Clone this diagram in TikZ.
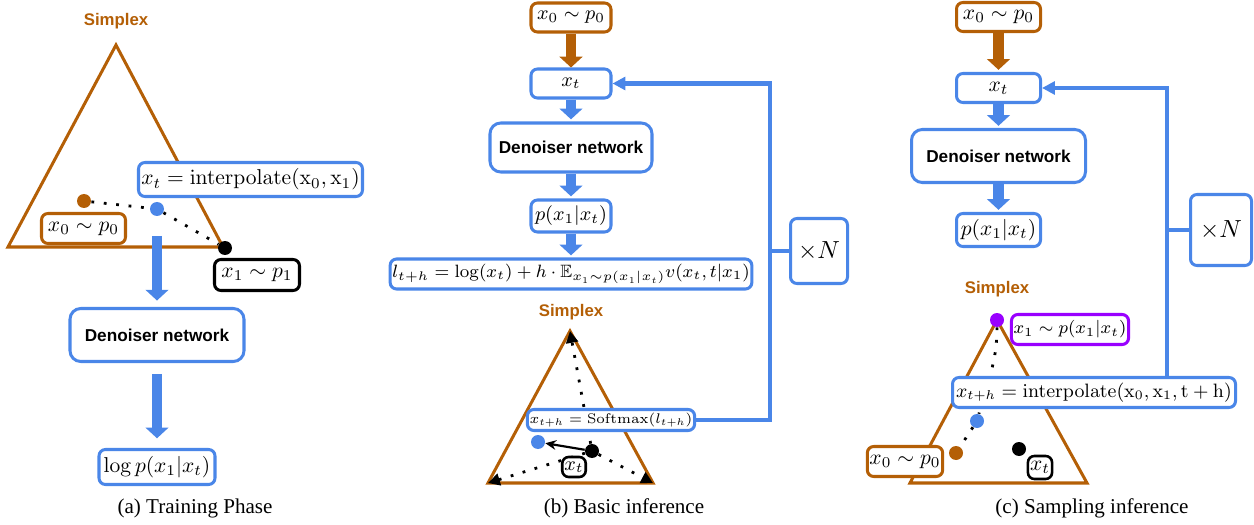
\RequirePackage{fix-cm}
\documentclass[tikz,border=0pt]{standalone}
\usepackage{amsmath,amssymb}
\usepackage[no-math]{fontspec}
\setmainfont{Liberation Serif}
\setsansfont{Liberation Sans}
\usepackage{tikz}
\usetikzlibrary{arrows.meta}
\definecolor{gblue}{RGB}{74,134,232}
\definecolor{gbrown}{RGB}{180,95,6}
\definecolor{gpurple}{RGB}{153,0,255}
\newcommand{\pxl}{0.465pt}
\tikzset{
  bluebox/.style={draw=gblue, line width=1.4pt, rounded corners=3pt, fill=white, inner sep=1pt},
  brownbox/.style={bluebox, draw=gbrown},
  blackbox/.style={bluebox, draw=black},
  purplebox/.style={bluebox, draw=gpurple},
  denbox/.style={bluebox, rounded corners=5pt, font=\sffamily\bfseries\fontsize{8}{10}\selectfont},
  smallmath/.style={font=\fontsize{9.2}{11}\selectfont},
  simdot/.style={circle, inner sep=0pt, minimum size=14*\pxl},
  simlabel/.style={text=gbrown, font=\sffamily\bfseries\fontsize{7.8}{9}\selectfont},
  simplex/.style={draw=gbrown, line width=1.4pt, line join=miter},
  bigarrow/.style={line width=5pt, -{Triangle[width=10.5pt,length=5pt]}},
  loopline/.style={draw=gblue, line width=1.9pt},
  dotline/.style={line width=1.3pt, dash pattern=on 1.3pt off 4.5pt},
  caption/.style={font=\fontsize{9.8}{12}\selectfont},
}
\begin{document}
\begin{tikzpicture}[x=0.465pt, y=-0.465pt]
  \useasboundingbox (0, 0) rectangle (1254, 525);
  \node[simlabel] (simA) at (116, 21) {Simplex};
  \draw[simplex] (116, 45) -- (223, 247) -- (8, 247) -- cycle;
  \node[simdot, fill=gbrown] (brdotA) at (84, 201) {};
  \node[simdot, fill=gblue] (bldotA) at (157, 209) {};
  \node[simdot, fill=black] (bkdotA) at (225, 248) {};
  \draw[dotline] (brdotA) -- (bldotA) -- (bkdotA);
  \node[bluebox, minimum width=224*\pxl, minimum height=34*\pxl] (interpA) at (250.5, 179.5) {$x_t = \mathrm{interpolate(x_0, x_1)}$};
  \node[brownbox, minimum width=84*\pxl, minimum height=30*\pxl] (x0A) at (83.5, 228.5) {$x_0 \sim p_0$};
  \node[blackbox, minimum width=85*\pxl, minimum height=31*\pxl] (x1A) at (257, 275) {$x_1 \sim p_1$};
  \coordinate (arrA) at (157, 236);
  \node[denbox, minimum width=174*\pxl, minimum height=53*\pxl] (denA) at (157, 335) {Denoiser network};
  \node[bluebox, minimum width=116*\pxl, minimum height=35*\pxl] (logA) at (157, 467) {$\log p(x_1|x_t)$};
  \draw[bigarrow, gblue, shorten >=3pt] (arrA) -- (denA.north);
  \draw[bigarrow, gblue, shorten <=5pt, shorten >=4.5pt] (denA.south) -- (logA.north);
  \node[caption] (capA) at (195, 508) {(a) Training Phase};

  \node[brownbox, smallmath, minimum width=80*\pxl, minimum height=29*\pxl] (x0B) at (571, 17.5) {$x_0 \sim p_0$};
  \node[bluebox, smallmath, minimum width=80*\pxl, minimum height=29*\pxl] (xtB) at (571, 83.5) {$x_t$};
  \node[denbox, minimum width=162*\pxl, minimum height=49*\pxl] (denB) at (571, 147.5) {Denoiser network};
  \node[bluebox, smallmath, minimum width=80*\pxl, minimum height=32*\pxl] (pB) at (571, 216) {$p(x_1|x_t)$};
  \node[bluebox, font=\fontsize{8.3}{10}\selectfont, minimum width=346*\pxl, minimum height=30*\pxl] (lB) at (571, 274) {$l_{t+h} = \log(x_t) + h \cdot \mathbb{E}_{x_1 \sim p(x_1|x_t)} v(x_t, t|x_1)$};
  \draw[bigarrow, gbrown] (x0B) -- (xtB);
  \draw[bigarrow, gblue, shorten >=1pt] (xtB) -- (denB);
  \draw[bigarrow, gblue, shorten >=1pt] (denB) -- (pB);
  \draw[bigarrow, gblue, shorten >=1pt] (pB) -- (lB);
  \node[simlabel] (simB) at (571, 312) {Simplex};
  \coordinate (topB) at (570, 331);
  \coordinate (leftB) at (488, 483);
  \coordinate (rightB) at (653, 483);
  \draw[simplex] (topB) -- (rightB) -- (leftB) -- cycle;
  \node[simdot, fill=black] (bkB) at (592, 451) {};
  \node[simdot, fill=gblue] (blB) at (538, 442) {};
  \draw[dotline, -{Triangle[width=5.5pt, length=5.5pt]}] (bkB) -- (topB);
  \draw[dotline, -{Triangle[width=5.5pt, length=5.5pt]}] (bkB) -- (leftB);
  \draw[dotline, -{Triangle[width=5.5pt, length=5.5pt]}] (bkB) -- (rightB);
  \draw[line width=1pt, -{Stealth[length=5pt, width=4.5pt]}] (bkB) -- (blB);
  \node[bluebox, font=\fontsize{6.5}{8}\selectfont, minimum width=159*\pxl, minimum height=21*\pxl] (smB) at (611, 420) {$x_{t+h} = \mathrm{Softmax}(l_{t+h})$};
  \node[blackbox, smallmath, line width=1.2pt, minimum size=20*\pxl] (xtsB) at (574, 467) {$x_t$};
  \coordinate (cornerB) at (770, 420);
  \draw[loopline, -{Triangle[width=6pt, length=6pt]}] (smB.east) -- (cornerB) |- (xtB.east);
  \node[bluebox, font=\fontsize{11.5}{14}\selectfont, minimum width=57*\pxl, minimum height=65*\pxl] (nB) at (819, 251) {$\times N$};
  \draw[loopline] (nB.west) -- (nB.west -| cornerB);
  \node[caption] (capB) at (624, 508) {(b) Basic inference};

  \node[brownbox, minimum width=84*\pxl, minimum height=29*\pxl] (x0C) at (998.5, 17) {$x_0 \sim p_0$};
  \node[bluebox, minimum width=84*\pxl, minimum height=29*\pxl] (xtC) at (998.5, 88) {$x_t$};
  \node[denbox, minimum width=174*\pxl, minimum height=53*\pxl] (denC) at (998.5, 156) {Denoiser network};
  \node[bluebox, minimum width=84*\pxl, minimum height=33*\pxl] (pC) at (998.5, 230) {$p(x_1|x_t)$};
  \draw[bigarrow, gbrown, shorten >=1pt] (x0C) -- (xtC);
  \draw[bigarrow, gblue, shorten >=1pt] (xtC) -- (denC);
  \draw[bigarrow, gblue, shorten >=1pt] (denC) -- (pC);
  \node[simlabel] (simC) at (997, 289) {Simplex};
  \draw[simplex] (997, 320) -- (1087, 483) -- (910, 483) -- cycle;
  \node[simdot, fill=gpurple] (puC) at (997, 320) {};
  \node[simdot, fill=gblue] (blC) at (977, 421) {};
  \node[simdot, fill=gbrown] (brC) at (956, 453) {};
  \node[simdot, fill=black] (bkC) at (1019, 449) {};
  \draw[dotline] (puC) to[out=-90, in=75] (blC) -- (brC);
  \node[purplebox, font=\fontsize{8.2}{10}\selectfont, minimum width=113*\pxl, minimum height=30*\pxl] (puxC) at (1070, 329.5) {$x_1 \sim p(x_1|x_t)$};
  \node[bluebox, font=\fontsize{9}{11}\selectfont, minimum width=283*\pxl, minimum height=30*\pxl] (ipC) at (1094, 392.5) {$x_{t+h} = \mathrm{interpolate(x_0, x_1, t+h)}$};
  \node[blackbox, line width=1.2pt, minimum width=22*\pxl, minimum height=23*\pxl] (xtsC) at (1040, 467.5) {$x_t$};
  \node[brownbox, minimum width=73*\pxl, minimum height=30*\pxl] (x0sC) at (905, 461.5) {$x_0 \sim p_0$};
  \coordinate (loopC) at (1167, 376);
  \draw[loopline, -{Triangle[width=6pt, length=6pt]}] (loopC) |- (xtC.east);
  \node[bluebox, font=\fontsize{11.5}{14}\selectfont, minimum width=61*\pxl, minimum height=71*\pxl] (nC) at (1221, 230) {$\times N$};
  \draw[loopline] (nC.west) -- (nC.west -| loopC);
  \node[caption] (capC) at (1092, 508) {(c) Sampling inference};
\end{tikzpicture}
\end{document}
